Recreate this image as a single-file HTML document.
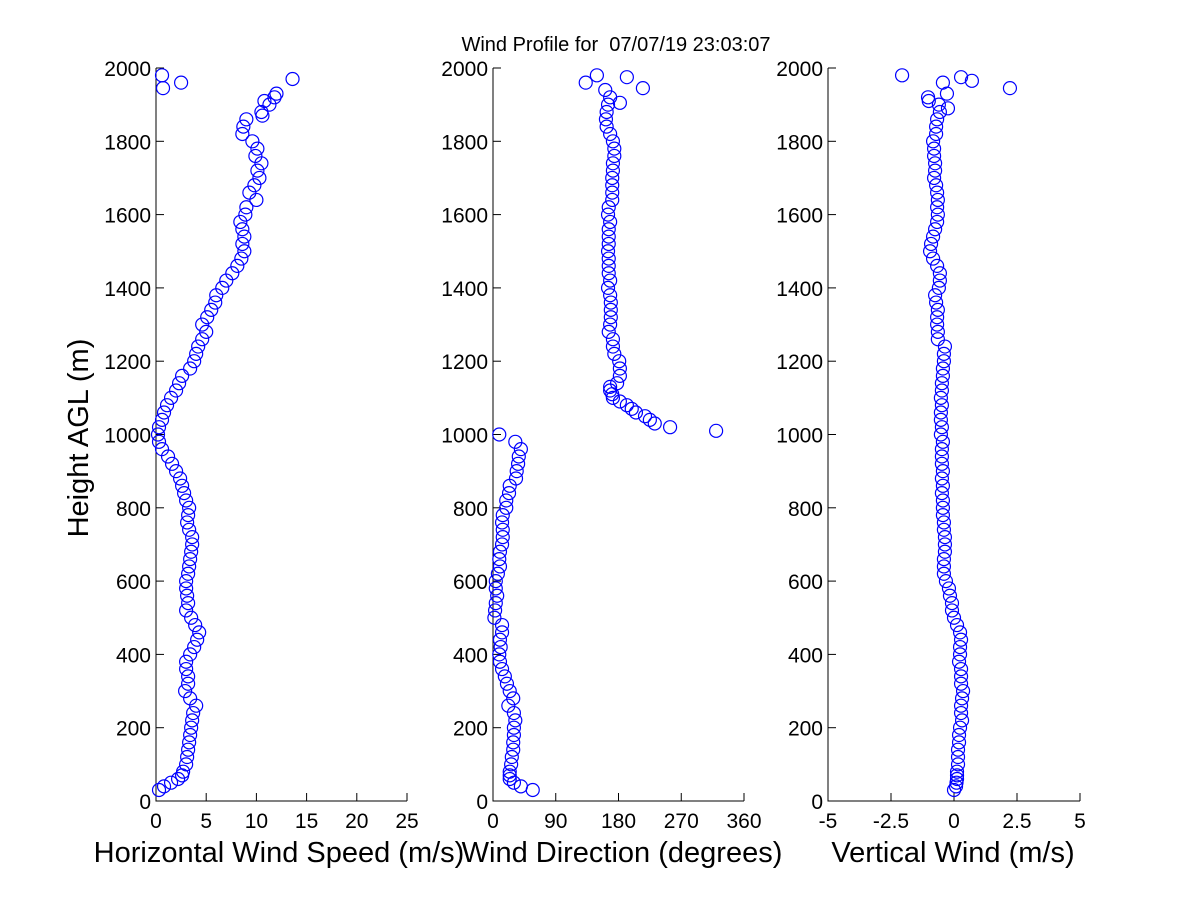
<!DOCTYPE html>
<html><head><meta charset="utf-8"><style>
html,body{margin:0;padding:0;background:#fff;}
svg{display:block;font-family:"Liberation Sans",sans-serif;}
</style></head><body>
<svg id="c" width="1200" height="900" viewBox="0 0 1200 900">
<text x="616" y="51" font-size="20" text-anchor="middle" style="white-space:pre" xml:space="preserve">Wind Profile for  07/07/19 23:03:07</text>
<text transform="translate(88,438) rotate(-90)" font-size="29" text-anchor="middle">Height AGL (m)</text>
<g id="plots"></g>
</svg>
<script>
const heights=[30,40,50,60,70,80,100,120,140,160,180,200,220,240,260,280,300,320,340,360,380,400,420,440,460,480,500,520,540,560,580,600,620,640,660,680,700,720,740,760,780,800,820,840,860,880,900,920,940,960,980,1000,1020,1040,1060,1080,1100,1120,1140,1160,1180,1200,1220,1240,1260,1280,1300,1320,1340,1360,1380,1400,1420,1440,1460,1480,1500,1520,1540,1560,1580,1600,1620,1640,1660,1680,1700,1720,1740,1760,1780,1800,1820,1840,1860,1880,1900,1920];
const speedValues=[0.3,0.8,1.5,2.2,2.6,2.7,3.0,3.1,3.2,3.3,3.4,3.5,3.6,3.7,4.0,3.4,2.9,3.2,3.2,3.0,3.0,3.4,3.8,4.1,4.3,3.9,3.5,3.0,3.2,3.1,3.0,3.0,3.2,3.3,3.4,3.5,3.6,3.6,3.3,3.1,3.2,3.3,3.0,2.8,2.6,2.4,2.0,1.6,1.2,0.6,0.3,0.2,0.3,0.6,0.8,1.1,1.5,2.0,2.3,2.6,3.4,3.8,4.0,4.2,4.6,5.0,4.6,5.1,5.5,5.9,6.0,6.6,7.0,7.6,8.1,8.5,8.8,8.6,8.8,8.6,8.4,8.9,9.0,10.0,9.3,9.8,10.3,10.1,10.5,9.9,10.1,9.6,8.6,8.7,9.0,10.5,11.3,11.8];
const speedExtraH=[1980,1945,1960,1970,1910,1870,1930];
const speedExtraV=[0.6,0.7,2.5,13.6,10.8,10.6,12.0];
const dirValues=[57,40,30,24,24,24,26,27,29,29,30,30,32,30,22,29,24,20,17,13,10,9,11,10,13,13,2,3,4,6,4,4,7,10,9,10,13,14,14,13,14,19,19,23,24,33,34,36,37,40,32,9,254,225,205,192,172,168,178,182,182,181,174,172,172,166,168,169,169,169,168,165,168,166,166,166,165,166,166,166,168,165,166,171,171,171,171,172,172,174,174,172,168,163,162,163,165,168];
const dirExtraH=[1010,1030,1050,1070,1090,1110,1130,1940,1905,1945,1960,1980,1975];
const dirExtraV=[320,232,218,199,182,171,168,161,182,215,133,149,192];
const vertValues=[0,0.08,0.1,0.12,0.12,0.12,0.16,0.16,0.16,0.2,0.2,0.24,0.32,0.28,0.28,0.32,0.36,0.28,0.28,0.28,0.2,0.24,0.24,0.28,0.24,0.12,0,-0.08,-0.08,-0.16,-0.2,-0.32,-0.4,-0.4,-0.4,-0.36,-0.36,-0.36,-0.4,-0.4,-0.44,-0.44,-0.44,-0.48,-0.44,-0.48,-0.44,-0.48,-0.48,-0.48,-0.44,-0.52,-0.48,-0.52,-0.52,-0.48,-0.52,-0.48,-0.48,-0.44,-0.44,-0.4,-0.4,-0.36,-0.64,-0.64,-0.67,-0.67,-0.64,-0.71,-0.75,-0.6,-0.56,-0.56,-0.67,-0.83,-0.95,-0.91,-0.83,-0.75,-0.67,-0.64,-0.67,-0.64,-0.67,-0.71,-0.79,-0.75,-0.75,-0.79,-0.79,-0.83,-0.71,-0.71,-0.67,-0.56,-0.6,-1.03];
const vertExtraH=[1910,1960,1980,1975,1965,1930,1945,1890];
const vertExtraV=[-1.0,-0.44,-2.06,0.28,0.71,-0.28,2.22,-0.24];
const yTicks=[0,200,400,600,800,1000,1200,1400,1600,1800,2000];
const speedTicks=[0,5,10,15,20,25];
const dirTicks=[0,90,180,270,360];
const vertTicks=[-5,-2.5,0,2.5,5];
const vertTickLabels=["-5","-2.5","0","2.5","5"];

const NS="http://www.w3.org/2000/svg";
const Y0=801,Y1=68;
function yScale(h){return Y0+(Y1-Y0)*h/2000;}
const g=document.getElementById('plots');
function mk(tag,attrs,parent){const e=document.createElementNS(NS,tag);for(const k in attrs)e.setAttribute(k,attrs[k]);(parent||g).appendChild(e);return e;}
function panel(name,x0,x1,dmin,dmax,ticks,labels,title,titleX,vals,exH,exV){
  const grp=mk('g',{});
  
  
  const xs=v=>x0+(x1-x0)*(v-dmin)/(dmax-dmin);
  const ax=mk('path',{d:`M${x0},${Y1}V${Y0}H${x1}`,stroke:'#000',fill:'none','stroke-width':1},grp);
  
  
  yTicks.forEach(t=>{const y=yScale(t);
    const tk=mk('line',{x1:x0,x2:x0+8,y1:y,y2:y,stroke:'#000'},grp);
    
    
    const tl=mk('text',{x:x0-5,y:y+8,'font-size':21,'text-anchor':'end'},grp);tl.textContent=t;
    
    });
  ticks.forEach((t,i)=>{const x=xs(t);
    const tk=mk('line',{x1:x,x2:x,y1:Y0,y2:Y0-8,stroke:'#000'},grp);
    
    
    const tl=mk('text',{x:x,y:828,'font-size':21,'text-anchor':'middle'},grp);tl.textContent=labels[i];
    
    });
  const tt=mk('text',{x:titleX,y:862,'font-size':29,'text-anchor':'middle'},grp);tt.textContent=title;
  
  
  const n=Math.min(heights.length,vals.length);
  const pts=[];for(let i=0;i<n;i++)pts.push([heights[i],vals[i]]);
  for(let i=0;i<exH.length;i++)pts.push([exH[i],exV[i]]);
  pts.forEach(p=>{const c=mk('circle',{cx:xs(p[1]),cy:yScale(p[0]),r:6.5,fill:'none',stroke:'#0000ff','stroke-width':1.2},grp);
    
    });
}
panel('horizontal-wind-speed',156,407,0,25,speedTicks,speedTicks.map(String),'Horizontal Wind Speed (m/s)',279,speedValues,speedExtraH,speedExtraV);
panel('wind-direction',493,744,0,360,dirTicks,dirTicks.map(String),'Wind Direction (degrees)',622,dirValues,dirExtraH,dirExtraV);
panel('vertical-wind',828,1080,-5,5,vertTicks,vertTickLabels,'Vertical Wind (m/s)',953,vertValues,vertExtraH,vertExtraV);
</script>
</body></html>
